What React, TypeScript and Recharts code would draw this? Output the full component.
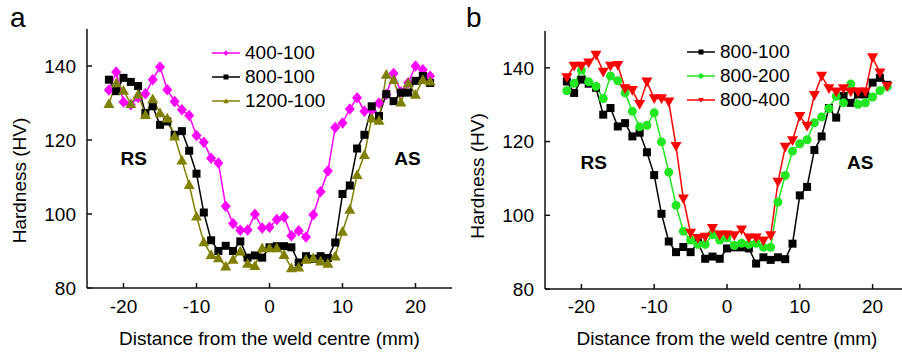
import React from "react";
import {
  Legend,
  Line,
  LineChart,
  ReferenceDot,
  XAxis,
  YAxis,
} from "recharts";

// distance from weld centre (mm)
const distance = [
  -22, -21, -20, -19, -18, -17, -16, -15, -14, -13, -12, -11, -10, -9, -8, -7,
  -6, -5, -4, -3, -2, -1, 0, 1, 2, 3, 4, 5, 6, 7, 8, 9, 10, 11, 12, 13, 14, 15,
  16, 17, 18, 19, 20, 21, 22,
];

const hv400_100 = [
  133.5, 138.4, 130.3, 129.5, 131.5, 132.5, 136.3, 139.7, 133.6, 130.4, 128.2,
  126.6, 121.2, 119.4, 115.1, 113.8, 102.1, 97.4, 95.6, 95.7, 99.9, 96.2, 96.4,
  98.5, 99.2, 94.1, 95.5, 93.8, 99.8, 106, 111.6, 123.4, 124.6, 128.4, 131.4,
  127.8, 128, 130, 132.3, 138, 133, 135.5, 140, 139, 137.2,
];

const hv800_100 = [
  136.3, 133.2, 136.8, 135.7, 134.6, 127.3, 129.1, 124.1, 125, 121.4, 122.4,
  117.1, 110.9, 100.4, 92.9, 90, 91.4, 90, 92.6, 88.2, 88.8, 88.2, 91, 91.3,
  91.3, 91, 86.9, 88.6, 87.9, 88.6, 88.1, 92.3, 105.4, 107.7, 117.7, 121.4,
  129.1, 126.5, 132.4, 130.5, 132.8, 132.8, 136, 137.3, 135.4,
];

const hv1200_100 = [
  129.8, 135.4, 133.4, 129.8, 132.3, 126.8, 131.1, 127.3, 125.9, 121, 114.5,
  107.9, 99.4, 92.4, 89, 88.1, 85.9, 87.7, 89.9, 86.6, 86, 90.8, 90.8, 90.8, 89,
  85.4, 85.6, 87.7, 88.1, 87.2, 86.6, 88.6, 95.3, 101.2, 110.6, 116, 125.9,
  125.3, 137.7, 136.3, 130.2, 135.4, 132.3, 136.3, 135.9,
];

const hv800_200 = [
  133.8, 135.8, 139.4, 136.2, 135, 131.7, 137.8, 136.5, 133.2, 128.2, 124,
  124.4, 127.8, 119.9, 111.7, 102.7, 95.7, 93.3, 92.1, 92.1, 94.7, 93.3, 93.9,
  91.8, 92.4, 92.1, 92.4, 91.3, 91.3, 103.6, 110.8, 117.4, 119.4, 120.5, 125.1,
  126.7, 129, 132.3, 130.5, 135.6, 130.1, 130.5, 132.1, 133.8, 134.9,
];

const hv800_400 = [
  137.4, 140.5, 140.5, 141.4, 143.5, 138.9, 140.5, 140.7, 134.4, 133.9, 130.1,
  136.2, 131.7, 131.7, 130.8, 118.7, 104.5, 95.2, 93.8, 94.1, 96.5, 94.7, 94.7,
  94.5, 96.1, 93.9, 93.9, 93.1, 94.5, 109, 118.5, 120.3, 126.9, 124.2, 132.6,
  137.8, 134.4, 133.5, 134.4, 133.5, 133.5, 133.5, 142.8, 138.7, 135,
];

const xTicks = [-20, -10, 0, 10, 20];
const yTicks = [80, 100, 120, 140];

const dataA = distance.map((x, i) => ({
  x,
  a400: hv400_100[i],
  a800: hv800_100[i],
  a1200: hv1200_100[i],
}));

const dataB = distance.map((x, i) => ({
  x,
  b100: hv800_100[i],
  b200: hv800_200[i],
  b400: hv800_400[i],
}));

type Shape = "square" | "diamond" | "circle" | "triUp" | "triDown";

interface SeriesDef {
  key: string;
  name: string;
  color: string;
  shape: Shape;
}

const seriesA: SeriesDef[] = [
  { key: "a400", name: "400-100", color: "#ff00ff", shape: "diamond" },
  { key: "a800", name: "800-100", color: "#000000", shape: "square" },
  { key: "a1200", name: "1200-100", color: "#808000", shape: "triUp" },
];

const seriesB: SeriesDef[] = [
  { key: "b100", name: "800-100", color: "#000000", shape: "square" },
  { key: "b200", name: "800-200", color: "#22e622", shape: "circle" },
  { key: "b400", name: "800-400", color: "#ff0000", shape: "triDown" },
];

const FONT = "'Liberation Sans', Arial, Helvetica, sans-serif";
const AXIS = "#111";

function Marker({
  cx,
  cy,
  shape,
  color,
  size,
}: {
  cx: number;
  cy: number;
  shape: Shape;
  color: string;
  size: number;
}) {
  const h = size / 2;
  if (cx == null || cy == null) return null;
  switch (shape) {
    case "square":
      return <rect x={cx - h} y={cy - h} width={size} height={size} fill={color} />;
    case "diamond":
      return (
        <polygon
          points={`${cx},${cy - h * 1.15} ${cx + h},${cy} ${cx},${cy + h * 1.15} ${cx - h},${cy}`}
          fill={color}
        />
      );
    case "circle":
      return <circle cx={cx} cy={cy} r={h} fill={color} />;
    case "triUp":
      return (
        <polygon
          points={`${cx},${cy - h * 1.1} ${cx + h * 1.1},${cy + h * 0.85} ${cx - h * 1.1},${cy + h * 0.85}`}
          fill={color}
        />
      );
    case "triDown":
      return (
        <polygon
          points={`${cx},${cy + h * 1.1} ${cx + h * 1.1},${cy - h * 0.85} ${cx - h * 1.1},${cy - h * 0.85}`}
          fill={color}
        />
      );
  }
  return null;
}

const markerSize: Record<Shape, number> = {
  square: 8,
  diamond: 10,
  circle: 9,
  triUp: 10,
  triDown: 10,
};

function legendContent(series: SeriesDef[]) {
  return () => (
    <div style={{ fontFamily: FONT, fontSize: 19, color: "#000" }}>
      {series.map((s) => (
        <div
          key={s.key}
          style={{ display: "flex", alignItems: "center", height: 24 }}
        >
          <svg width={30} height={24} style={{ display: "block" }}>
            <line x1={0} x2={28} y1={12} y2={12} stroke={s.color} strokeWidth={1.5} />
            <Marker cx={14} cy={12} shape={s.shape} color={s.color} size={5} />
          </svg>
          <span style={{ marginLeft: 3, lineHeight: "24px" }}>{s.name}</span>
        </div>
      ))}
    </div>
  );
}

function yTitle(dx: number, shift: number) {
  return (props: any) => {
    const vb = props.viewBox || {};
    const cx = vb.x + dx;
    const cy = vb.y + vb.height / 2 + shift;
    return (
      <text
        x={cx}
        y={cy}
        transform={`rotate(-90, ${cx}, ${cy})`}
        textAnchor="middle"
        dominantBaseline="central"
        fontSize={19}
        fontFamily={FONT}
        fill="#000"
      >
        Hardness (HV)
      </text>
    );
  };
}

function Panel({
  data,
  series,
  width,
  margin,
  yWidth,
  xHeight,
  xTickMargin,
  legendPos,
  titleDx,
  titleShift,
  rs,
  as,
}: {
  data: any[];
  series: SeriesDef[];
  width: number;
  margin: { top: number; right: number; bottom: number; left: number };
  yWidth: number;
  xHeight: number;
  xTickMargin: number;
  legendPos: { left: number; top: number };
  titleDx: number;
  titleShift: number;
  rs: { x: number; y: number };
  as: { x: number; y: number };
}) {
  const tickStyle = { fill: "#000", fontSize: 19, fontFamily: FONT };
  const sideLabel = (value: string) => ({
    value,
    position: "center" as const,
    fontSize: 19,
    fontWeight: 700,
    fontFamily: FONT,
    fill: "#000",
  });
  return (
    <LineChart width={width} height={352} data={data} margin={margin}>
      <XAxis
        dataKey="x"
        type="number"
        domain={[-25, 25]}
        ticks={xTicks}
        height={xHeight}
        tick={tickStyle}
        tickSize={-5}
        tickMargin={xTickMargin}
        tickLine={{ stroke: AXIS, strokeWidth: 1.5 }}
        axisLine={{ stroke: AXIS, strokeWidth: 1.5 }}
        label={{
          value: "Distance from the weld centre (mm)",
          position: "insideBottom",
          offset: 7,
          fontSize: 19,
          fontFamily: FONT,
          fill: "#000",
        }}
      />
      <XAxis
        xAxisId="top"
        orientation="top"
        type="number"
        domain={[-25, 25]}
        height={0}
        tick={false}
        tickLine={false}
        axisLine={{ stroke: AXIS, strokeWidth: 1.5 }}
      />
      <YAxis
        type="number"
        domain={[80, 150]}
        ticks={yTicks}
        width={yWidth}
        tick={tickStyle}
        tickSize={-5}
        tickMargin={16}
        tickLine={{ stroke: AXIS, strokeWidth: 1.5 }}
        axisLine={{ stroke: AXIS, strokeWidth: 1.5 }}
        label={{ content: yTitle(titleDx, titleShift) }}
      />
      <YAxis
        yAxisId="right"
        orientation="right"
        type="number"
        domain={[80, 150]}
        width={0}
        tick={false}
        tickLine={false}
        axisLine={{ stroke: AXIS, strokeWidth: 1.5 }}
      />
      <Legend
        layout="vertical"
        align="center"
        verticalAlign="middle"
        wrapperStyle={{ left: legendPos.left, top: legendPos.top }}
        content={legendContent(series)}
      />
      <ReferenceDot x={rs.x} y={rs.y} r={0} fill="none" stroke="none" label={sideLabel("RS")} />
      <ReferenceDot x={as.x} y={as.y} r={0} fill="none" stroke="none" label={sideLabel("AS")} />
      {series.map((s) => (
        <Line
          key={s.key}
          dataKey={s.key}
          name={s.name}
          type="linear"
          stroke={s.color}
          strokeWidth={1.5}
          isAnimationActive={false}
          dot={(p: any) => (
            <Marker
              key={`${s.key}-${p.index}`}
              cx={p.cx}
              cy={p.cy}
              shape={s.shape}
              color={s.color}
              size={markerSize[s.shape]}
            />
          )}
          activeDot={false}
        />
      ))}
    </LineChart>
  );
}

export default function App() {
  return (
    <div
      style={{
        position: "fixed",
        left: 0,
        top: 0,
        width: 902,
        height: 352,
        overflow: "hidden",
        background: "#fff",
        fontFamily: FONT,
      }}
    >
      <div style={{ position: "absolute", left: 0, top: 0 }}>
        <Panel
          data={dataA}
          series={seriesA}
          width={460}
          margin={{ top: 29, right: 8, bottom: 0, left: 0 }}
          yWidth={87}
          xHeight={64}
          xTickMargin={17}
          legendPos={{ left: 212, top: 41 }}
          titleDx={19}
          titleShift={22}
          rs={{ x: -18.6, y: 115.2 }}
          as={{ x: 18.9, y: 115.2 }}
        />
      </div>
      <div style={{ position: "absolute", left: 450, top: 0 }}>
        <Panel
          data={dataB}
          series={seriesB}
          width={470}
          margin={{ top: 31, right: 11, bottom: 0, left: 0 }}
          yWidth={95}
          xHeight={63}
          xTickMargin={16}
          legendPos={{ left: 237, top: 40 }}
          titleDx={27}
          titleShift={16}
          rs={{ x: -18.3, y: 114.5 }}
          as={{ x: 18.3, y: 114.5 }}
        />
      </div>
      <div
        style={{
          position: "absolute",
          left: 10,
          top: 4,
          fontSize: 28,
          lineHeight: "28px",
          color: "#000",
        }}
      >
        a
      </div>
      <div
        style={{
          position: "absolute",
          left: 466,
          top: 4,
          fontSize: 28,
          lineHeight: "28px",
          color: "#000",
        }}
      >
        b
      </div>
    </div>
  );
}
